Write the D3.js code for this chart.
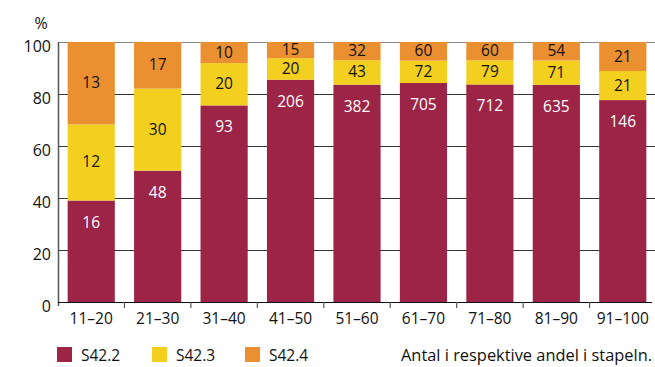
<!DOCTYPE html>
<html>
<head>
<meta charset="utf-8">
<script src="https://cdn.jsdelivr.net/npm/d3@7"></script>
<style>
  html, body { margin: 0; padding: 0; background: #fff; }
  svg { display: block; font-family: "Open Sans", "Noto Sans", sans-serif; }
</style>
</head>
<body>
<svg id="chart" width="655" height="367"></svg>
<script>
// Age groups and the number of cases per diagnosis code in each group
const categories = ["11–20", "21–30", "31–40", "41–50", "51–60", "61–70", "71–80", "81–90", "91–100"];
const s422 = [16, 48, 93, 206, 382, 705, 712, 635, 146];
const s423 = [12, 30, 20, 20, 43, 72, 79, 71, 21];
const s424 = [13, 17, 10, 15, 32, 60, 60, 54, 21];
const seriesNames = ["S42.2", "S42.3", "S42.4"];
const yTicks = [0, 20, 40, 60, 80, 100];

const colors = { "S42.2": "#9c2447", "S42.3": "#f3cf1f", "S42.4": "#ea9030" };
const labelColors = { "S42.2": "#ffffff", "S42.3": "#111111", "S42.4": "#111111" };
const textColor = "#111111";

const rows = categories.map((c, i) => ({ cat: c, "S42.2": s422[i], "S42.3": s423[i], "S42.4": s424[i] }));
rows.forEach(r => { r.total = r["S42.2"] + r["S42.3"] + r["S42.4"]; });

const svg = d3.select("#chart");
const margin = { left: 58, right: -1, top: 42 };
const W = 655;
const plotB = 302;

const x = d3.scaleBand().domain(categories).range([margin.left, W - margin.right]).paddingInner(0.29).paddingOuter(0.145);
const y = d3.scaleLinear().domain([0, 100]).range([plotB, margin.top]);

// horizontal gridlines
svg.append("g").selectAll("line").data(yTicks.filter(t => t > 0)).join("line")
  .attr("x1", margin.left).attr("x2", W - margin.right)
  .attr("y1", d => y(d)).attr("y2", d => y(d))
  .attr("stroke", d => d === 100 ? "#8a8a8a" : "#333").attr("stroke-width", 1)
  .attr("shape-rendering", "crispEdges");

// stacked percentage bars
const stack = d3.stack().keys(seriesNames)
  .value((d, k) => d[k] / d.total * 100);
const layers = stack(rows);

const g = svg.append("g");
layers.forEach(layer => {
  const key = layer.key;
  g.append("g").selectAll("rect").data(layer).join("rect")
    .attr("x", d => x(d.data.cat))
    .attr("width", x.bandwidth())
    .attr("y", d => y(d[1]))
    .attr("height", d => y(d[0]) - y(d[1]))
    .attr("fill", colors[key]);
  g.append("g").selectAll("text").data(layer).join("text")
    .attr("x", d => x(d.data.cat) + x.bandwidth() / 2)
    .attr("y", d => {
      const top = y(d[1]);
      const h = y(d[0]) - y(d[1]);
      return key === "S42.2" ? top + 27 : top + h / 2 + 5;
    })
    .attr("text-anchor", "middle")
    .attr("font-size", 15.5)
    .attr("fill", labelColors[key])
    .text(d => d.data[key]);
});

// y axis
const yAxis = d3.axisLeft(y).tickValues(yTicks).tickSize(0).tickPadding(7);
const ya = svg.append("g").attr("transform", `translate(${margin.left},0)`).call(yAxis);
ya.select(".domain").attr("stroke", "#555").attr("stroke-width", 1.5)
  .attr("d", `M0.5,${margin.top}V${plotB + 4}`);
ya.selectAll("text").attr("font-size", 16).attr("fill", textColor)
  .attr("font-family", "Open Sans, sans-serif").attr("dy", "0.58em");

svg.append("text").attr("x", 41).attr("y", 29).attr("text-anchor", "middle")
  .attr("font-size", 16).attr("fill", textColor).text("%");

// x axis baseline and category boundary ticks
svg.append("line").attr("x1", margin.left).attr("x2", W - 3)
  .attr("y1", plotB + 0.5).attr("y2", plotB + 0.5).attr("stroke", "#111").attr("stroke-width", 1.2);
const step = x.step();
svg.append("g").selectAll("line").data(categories.slice(1)).join("line")
  .attr("x1", d => x(d) - step * x.paddingInner() / 2)
  .attr("x2", d => x(d) - step * x.paddingInner() / 2)
  .attr("y1", plotB).attr("y2", plotB + 6)
  .attr("stroke", "#555").attr("stroke-width", 1.2);

svg.append("g").selectAll("text").data(categories).join("text")
  .attr("x", d => x(d) + x.bandwidth() / 2)
  .attr("y", 324)
  .attr("text-anchor", "middle")
  .attr("font-size", 15.5).attr("fill", textColor)
  .text(d => d);

// legend
const legendX = [57, 152, 245];
const lg = svg.append("g");
seriesNames.forEach((s, i) => {
  lg.append("rect").attr("x", legendX[i]).attr("y", 347).attr("width", 15).attr("height", 15).attr("fill", colors[s]);
  lg.append("text").attr("x", legendX[i] + 24).attr("y", 361).attr("font-size", 15.5).attr("fill", textColor).text(s);
});

svg.append("text").attr("x", 652).attr("y", 361).attr("text-anchor", "end")
  .attr("font-size", 16.4).attr("fill", textColor).text("Antal i respektive andel i stapeln.");
</script>
</body>
</html>
